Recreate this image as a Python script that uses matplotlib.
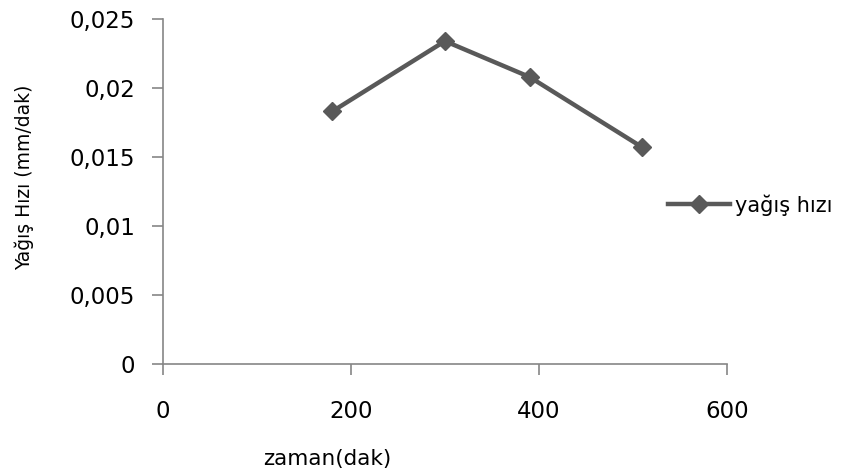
import numpy as np
import matplotlib.pyplot as plt
import matplotlib.ticker as mticker

# veriler
zaman = [180, 300, 390, 510]
yagis_hizi = [0.0183, 0.0234, 0.0208, 0.0157]
x_ticks = [0, 200, 400, 600]
y_ticks = [0, 0.005, 0.01, 0.015, 0.02, 0.025]

plt.rcParams['font.family'] = ['DejaVu Sans']

fig = plt.figure(figsize=(8.47, 4.72), dpi=100)
ax = fig.add_axes([0.1924, 0.2288, 0.6659, 0.7309])

gri = '#595959'
ax.plot(zaman, yagis_hizi, color=gri, lw=3.2, marker='D', ms=9.5,
        label='yağış hızı')

ax.set_xlim(0, 600)
ax.set_ylim(0, 0.025)
ax.set_xticks(x_ticks)
ax.set_yticks(y_ticks)
ax.yaxis.set_major_formatter(mticker.FuncFormatter(
    lambda v, p: '0' if v == 0 else ('%g' % v).replace('.', ',')))

for s in ['top', 'right']:
    ax.spines[s].set_visible(False)
for s in ['left', 'bottom']:
    ax.spines[s].set_color('#868686')
    ax.spines[s].set_linewidth(1.2)

ax.tick_params(axis='y', direction='out', length=8, width=1.2,
               color='#868686', labelsize=16.5, pad=12)
ax.tick_params(axis='x', direction='out', length=8, width=1.2,
               color='#868686', labelsize=16.5, pad=18)

fig.text(0.029, 0.625, 'Yağış Hızı (mm/dak)', rotation=90, fontsize=13.5,
         ha='center', va='center')
fig.text(0.386, 0.028, 'zaman(dak)', fontsize=15.5, ha='center', va='center')

ax.legend(loc='center left', bbox_to_anchor=(0.895, 0.461), frameon=False,
          fontsize=15, handlelength=3.0, handletextpad=0.25,
          borderpad=0, borderaxespad=0)

fig.savefig('out.png', dpi=100)
